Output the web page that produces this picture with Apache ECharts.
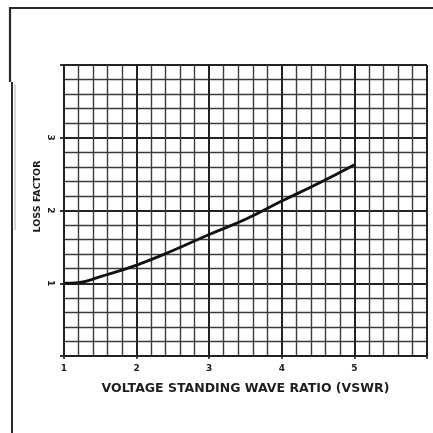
<!DOCTYPE html>
<html>
<head>
<meta charset="utf-8">
<style>
  html, body { margin: 0; padding: 0; background: #fff; }
  #chart { width: 433px; height: 433px; }
</style>
<script src="https://cdn.jsdelivr.net/npm/echarts@6/dist/echarts.min.js"></script>
</head>
<body>
<div id="chart"></div>
<script>
// VSWR values and the corresponding line loss factor
const vswr = [1.0, 1.2, 1.5, 2.0, 2.5, 3.0, 3.5, 4.0, 4.5, 5.0];
const lossFactor = [1.0, 1.01, 1.09, 1.25, 1.45, 1.67, 1.88, 2.13, 2.37, 2.63];
const xTickLabels = ['1', '2', '3', '4', '5'];
const yTickLabels = ['1', '2', '3'];

const chart = echarts.init(document.getElementById('chart'), null, { renderer: 'canvas' });

const ink = '#1e1e1e';
const gridMajor = { color: '#222', width: 2 };
const gridMinor = { color: '#3c3c3c', width: 1.4 };

chart.setOption({
  backgroundColor: '#ffffff',
  animation: false,
  grid: { left: 64, right: 6, top: 65, bottom: 77, containLabel: false },
  xAxis: {
    type: 'value',
    min: 1, max: 6, interval: 1,
    name: 'VOLTAGE STANDING WAVE RATIO (VSWR)',
    nameLocation: 'middle',
    nameGap: 26,
    nameMoveOverlap: false,
    nameTextStyle: { fontFamily: 'DejaVu Sans', fontWeight: 'bold', fontSize: 12.5, color: ink },
    axisLine: { show: true, lineStyle: { color: '#222', width: 2 } },
    axisTick: { show: true, length: 3, lineStyle: { color: '#222', width: 1.6 } },
    axisLabel: {
      margin: 8,
      fontFamily: 'DejaVu Sans', fontWeight: 'bold', fontSize: 9, color: ink,
      formatter: v => xTickLabels.includes(String(v)) ? String(v) : ''
    },
    splitLine: { show: true, lineStyle: gridMajor },
    minorTick: { show: false, splitNumber: 5 },
    minorSplitLine: { show: true, lineStyle: gridMinor }
  },
  yAxis: {
    type: 'value',
    min: 0, max: 4, interval: 1,
    name: 'LOSS FACTOR',
    nameLocation: 'middle',
    nameGap: 21,
    nameRotate: 90,
    nameMoveOverlap: false,
    nameTextStyle: { fontFamily: 'DejaVu Sans', fontWeight: 'bold', fontSize: 9.5, color: ink, padding: [0, 0, 0, 28] },
    axisLine: { show: true, lineStyle: { color: '#222', width: 2 } },
    axisTick: { show: true, length: 4, lineStyle: { color: '#222', width: 1.8 } },
    axisLabel: {
      margin: 9,
      rotate: -90,
      fontFamily: 'DejaVu Sans', fontWeight: 'bold', fontSize: 9, color: ink,
      formatter: v => yTickLabels.includes(String(v)) ? String(v) : ''
    },
    splitLine: { show: true, lineStyle: gridMajor },
    minorTick: { show: false, splitNumber: 5 },
    minorSplitLine: { show: true, lineStyle: gridMinor }
  },
  series: [{
    type: 'line',
    data: vswr.map((x, i) => [x, lossFactor[i]]),
    smooth: true,
    showSymbol: false,
    lineStyle: { color: '#111', width: 2.8 },
    z: 5
  }],
  graphic: [
    // page border along the top and left edges
    { type: 'polyline', silent: true,
      shape: { points: [[433, 8], [10, 8], [10, 82]] },
      style: { stroke: '#2a2a2a', lineWidth: 2.2, fill: null } },
    { type: 'line', silent: true,
      shape: { x1: 12, y1: 82, x2: 12, y2: 433 },
      style: { stroke: '#2a2a2a', lineWidth: 2 } },
    { type: 'rect', silent: true,
      shape: { x: 14, y: 84, width: 2, height: 146 },
      style: { fill: '#d8d8d8' } }
  ]
});
</script>
</body>
</html>
